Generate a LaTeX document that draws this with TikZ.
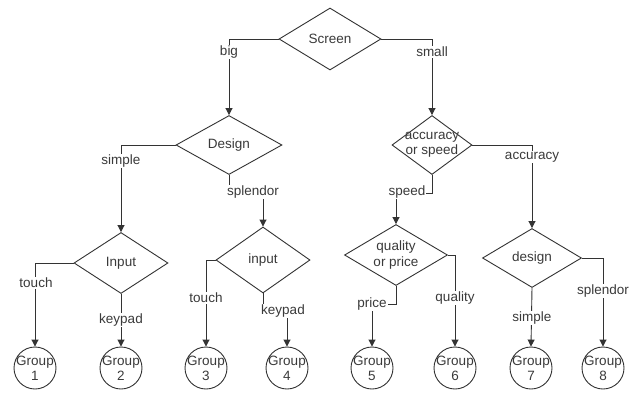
\documentclass[tikz,border=0pt]{standalone}
\usepackage{fontspec}
\setmainfont{Liberation Sans}
\usetikzlibrary{shapes.geometric,arrows.meta}
\definecolor{ink}{HTML}{333333}
\definecolor{txt}{HTML}{3A3A3A}
\tikzset{
  dia/.style={draw=ink,line width=0.9pt,shape=diamond,inner sep=0pt,
    label={[txt,align=center,font=\fontsize{13.5}{15.5}\selectfont]center:#1}},
  grp/.style={draw=ink,line width=0.9pt,circle,inner sep=0pt,minimum size=42pt,
    label={[txt,align=center,font=\fontsize{13.5}{15}\selectfont]center:#1}},
  arr/.style={draw=ink,line width=0.9pt,-{Triangle[length=7pt,width=7pt]}},
  lab/.style={fill=white,inner sep=1pt,text=txt,font=\fontsize{13.5}{15}\selectfont}
}
\begin{document}
\begin{tikzpicture}[x=1pt,y=-1pt]
\useasboundingbox[fill=white] (0,0) rectangle (635,394);
% diamonds
\node[dia={Screen},minimum width=102pt,minimum height=62pt] (scr) at (330,39) {};
\node[dia={Design},minimum width=106pt,minimum height=59pt] (des) at (229,145) {};
\node[dia={accuracy\\or speed},minimum width=80pt,minimum height=59pt] (aos) at (432,145) {};
\node[dia={Input},minimum width=94pt,minimum height=61pt] (inpa) at (121,263) {};
\node[dia={input},minimum width=94pt,minimum height=66pt] (inpb) at (263,260) {};
\node[dia={quality\\or price},minimum width=103pt,minimum height=61pt] (qop) at (396,255) {};
\node[dia={design},minimum width=99pt,minimum height=59pt] (dsg) at (532,258) {};
% groups
\node[grp={Group\\1}] (g1) at (35,368) {};
\node[grp={Group\\2}] (g2) at (121,368) {};
\node[grp={Group\\3}] (g3) at (206,368) {};
\node[grp={Group\\4}] (g4) at (287,368) {};
\node[grp={Group\\5}] (g5) at (372,368) {};
\node[grp={Group\\6}] (g6) at (455,368) {};
\node[grp={Group\\7}] (g7) at (531,368) {};
\node[grp={Group\\8}] (g8) at (603,368) {};
% connectors
\draw[arr] (scr.west) -| (des.north);
\draw[arr] (scr.east) -| (aos.north);
\draw[arr] (des.west) -| (inpa.north);
\draw[arr] (des.south) -- ++(0,18) -| (inpb.north);
\draw[arr] (aos.east) -| (dsg.north);
\draw[arr] (aos.south) -- ++(0,18) -| (qop.north);
\draw[arr] (inpa.west) -| (g1.north);
\draw[arr] (inpa.south) -- (g2.north);
\draw[arr] (inpb.west) -| (g3.north);
\draw[arr] (inpb.south) -- ++(0,18) -| (g4.north);
\draw[arr] (qop.east) -| (g6.north);
\draw[arr] (qop.south) -- ++(0,18) -| (g5.north);
\draw[arr] (dsg.south) -- (g7.north);
\draw[arr] (dsg.east) -| (g8.north);
% labels
\node[lab] (lbig) at (229,52) {big};
\node[lab] (lsmall) at (432,52) {small};
\node[lab] (lsimple) at (121,161) {simple};
\node[lab] (lsplendor) at (253,192) {splendor};
\node[lab] (lacc) at (532,157) {accuracy};
\node[lab] (lspeed) at (407,192) {speed};
\node[lab] (ltoucha) at (36,283) {touch};
\node[lab] (lkeypada) at (121,320) {keypad};
\node[lab] (ltouchb) at (206,298) {touch};
\node[lab] (lkeypadb) at (283,311) {keypad};
\node[lab] (lquality) at (455,298) {quality};
\node[lab] (lprice) at (372,304) {price};
\node[lab] (lsimpleb) at (532,318) {simple};
\node[lab] (lsplendorb) at (603,291) {splendor};
\end{tikzpicture}
\end{document}
